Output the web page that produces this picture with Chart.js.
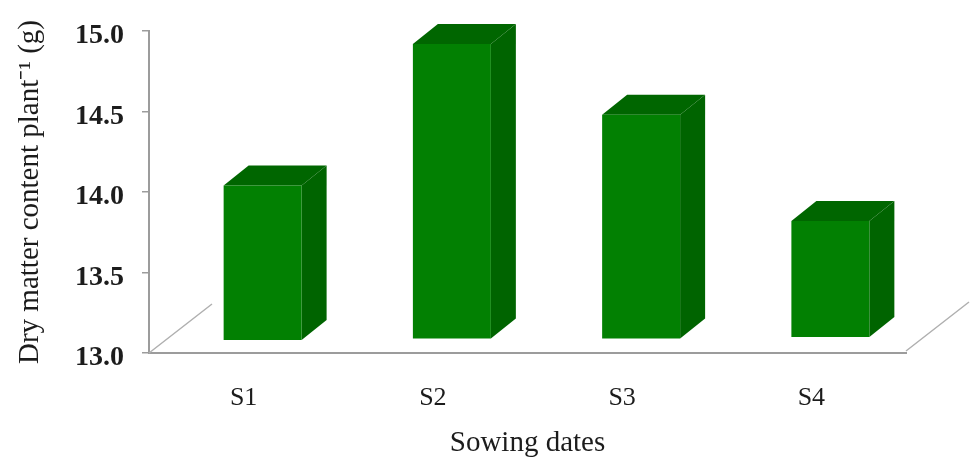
<!DOCTYPE html>
<html>
<head>
<meta charset="utf-8">
<title>Dry matter content</title>
<script src="https://cdn.jsdelivr.net/npm/chart.js@4"></script>
<style>
html, body { margin: 0; padding: 0; background: #fff; }
canvas { display: block; }
</style>
</head>
<body>
<canvas id="myChart" width="972" height="464"></canvas>
<script>
var categories = ["S1", "S2", "S3", "S4"];
var dryMatter = [14.04, 14.92, 14.48, 13.82];
var barBase = [13.08, 13.09, 13.09, 13.1];
var yTicks = [13.0, 13.5, 14.0, 14.5, 15.0];

var axisGrey = '#9c9c9c';
var textColor = '#1c1c1c';
var barShift = 19;   // bars sit forward of the tick labels
var depthX = 25, depthY = -20;
var floorX = 63, floorY = -49;

function poly(ctx, pts, color) {
    ctx.fillStyle = color;
    ctx.beginPath();
    ctx.moveTo(pts[0][0], pts[0][1]);
    for (var i = 1; i < pts.length; i++) ctx.lineTo(pts[i][0], pts[i][1]);
    ctx.closePath();
    ctx.fill();
}

var fake3d = {
    id: 'fake3d',
    beforeDatasetsDraw: function(chart) {
        var ctx = chart.ctx, area = chart.chartArea;
        // floor edges
        ctx.save();
        ctx.strokeStyle = '#b0b0b0';
        ctx.lineWidth = 1.5;
        ctx.beginPath();
        ctx.moveTo(area.left, area.bottom);
        ctx.lineTo(area.left + floorX, area.bottom + floorY);
        ctx.moveTo(area.right, area.bottom - 2);
        ctx.lineTo(area.right + floorX, area.bottom - 2 + floorY);
        ctx.stroke();
        ctx.restore();

        ctx.save();
        ctx.translate(barShift, 0);
        chart.getDatasetMeta(0).data.forEach(function(bar) {
            var p = bar.getProps(['x', 'y', 'base', 'width']);
            var l = p.x - p.width / 2, r = p.x + p.width / 2;
            poly(ctx, [[l, p.y], [r, p.y], [r + depthX, p.y + depthY], [l + depthX, p.y + depthY]], '#006600');
            poly(ctx, [[r, p.y], [r + depthX, p.y + depthY], [r + depthX, p.base + depthY], [r, p.base]], '#006400');
        });
    },
    afterDatasetsDraw: function(chart) {
        chart.ctx.restore();
    }
};

var ctx = document.getElementById('myChart').getContext('2d');
var chart = new Chart(ctx, {
    type: 'bar',
    plugins: [fake3d],
    data: {
        labels: categories,
        datasets: [{
            label: 'Dry matter',
            backgroundColor: '#028002',
            data: dryMatter.map(function(v, i) { return [barBase[i], v]; }),
            barPercentage: 0.412,
            categoryPercentage: 1
        }]
    },
    options: {
        responsive: false,
        animation: false,
        layout: { padding: { left: 13, top: 31, right: 66, bottom: 3 } },
        plugins: { legend: { display: false }, tooltip: { enabled: false } },
        scales: {
            x: {
                afterFit: function(axis) { axis.height = 108; },
                grid: { display: false, drawTicks: false },
                border: { color: axisGrey, width: 2 },
                ticks: { color: textColor, padding: 30, font: { family: 'Liberation Serif', size: 26 } },
                title: {
                    display: true,
                    text: 'Sowing dates',
                    color: textColor,
                    padding: { top: 16, bottom: 0 },
                    font: { family: 'Liberation Serif', size: 29 }
                }
            },
            y: {
                min: 13,
                max: 15,
                afterBuildTicks: function(axis) {
                    axis.ticks = yTicks.map(function(v) { return { value: v }; });
                },
                afterFit: function(axis) {
                    axis.width = 136;
                    // tick padding would otherwise push the plot top down
                    axis.paddingTop = 0;
                    axis.paddingBottom = 0;
                },
                grid: { color: axisGrey, drawOnChartArea: false, tickLength: 7, lineWidth: 1.5 },
                border: { color: axisGrey, width: 2 },
                ticks: {
                    color: textColor,
                    padding: 18,
                    labelOffset: 5,
                    font: { family: 'Liberation Serif', size: 28, weight: 'bold' },
                    callback: function(v) { return v.toFixed(1); }
                },
                title: {
                    display: true,
                    text: 'Dry matter content plant⁻¹ (g)',
                    color: textColor,
                    padding: { top: 0, bottom: 0 },
                    font: { family: 'Liberation Serif', size: 29 }
                }
            }
        }
    }
});
</script>
</body>
</html>
